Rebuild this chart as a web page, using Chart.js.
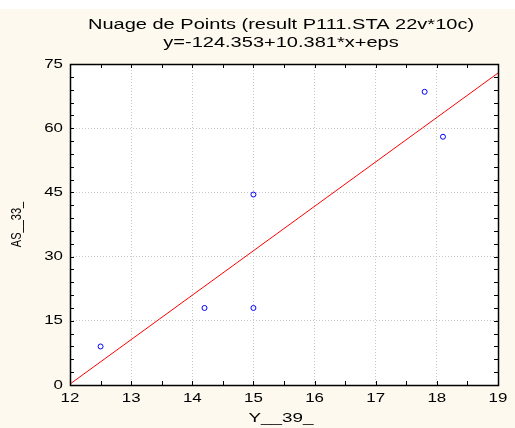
<!DOCTYPE html>
<html>
<head>
<meta charset="utf-8">
<script src="https://cdn.jsdelivr.net/npm/chart.js@4"></script>
<style>
  html, body { margin: 0; padding: 0; background: #fdf9ee; }
  #wrap { width: 515px; height: 428px; }
</style>
</head>
<body>
<div id="wrap"><canvas id="c" width="515" height="428"></canvas></div>
<script>
const titleLines = ["Nuage de Points (result P111.STA 22v*10c)", "y=-124.353+10.381*x+eps"];
const xAxisTitle = "Y__39_";
const yAxisTitle = "AS__33_";
const xValues = [12.5, 14.2, 15.0, 15.0, 17.8, 18.1];
const yValues = [9, 18, 18, 44.5, 68.5, 58];
const fitX = [12, 19];
const fitY = [0.22, 72.89];
const xMin = 12, xMax = 19, xMinorStep = 0.5, xMajorStep = 1;
const yMin = 0, yMax = 75, yMinorStep = 3, yMajorStep = 15;

const isMult = (v, s) => Math.abs(v / s - Math.round(v / s)) < 1e-6;

// The reference lettering is horizontally stretched: scale each glyph run about its anchor.
function stretched(ctx, sx, sy, dx, fn) {
  const orig = CanvasRenderingContext2D.prototype.fillText;
  ctx.fillText = function (t, x, y, mw) {
    this.save();
    this.translate(dx, 0);
    this.scale(sx, sy);
    if (mw === undefined || mw === null) orig.call(this, t, x / sx, y / sy);
    else orig.call(this, t, x / sx, y / sy, mw / sx);
    this.restore();
  };
  try { fn(); } finally { delete ctx.fillText; }
}
const stretch = {
  id: 'stretch',
  beforeDraw(chart) {
    const tb = chart.titleBlock;
    if (tb && !tb._st) {
      const d = tb.draw.bind(tb);
      tb.draw = a => stretched(chart.ctx, 1.43, 1, -3, () => d(a));
      tb._st = true;
    }
    ['x', 'y'].forEach(id => {
      const s = chart.scales[id];
      if (s && !s._st) {
        const dl = s.drawLabels.bind(s);
        s.drawLabels = a => stretched(chart.ctx, 1.3, 1, 0, () => dl(a));
        const dt = s.drawTitle.bind(s);
        s.drawTitle = () => id === 'x'
          ? stretched(chart.ctx, 1.45, 1, -3, () => dt())
          : stretched(chart.ctx, 1, 1.25, 0, () => dt());
        s._st = true;
      }
    });
  }
};

const frame = {
  id: 'frame',
  beforeDraw(chart) {
    const ctx = chart.ctx, a = chart.chartArea;
    ctx.save();
    ctx.fillStyle = '#fdf9ee';
    ctx.fillRect(0, 0, chart.width, chart.height);
    ctx.fillStyle = '#ffffff';
    ctx.fillRect(0, 0, chart.width, 9);
    ctx.fillRect(a.left, a.top, a.right - a.left, a.bottom - a.top);
    ctx.restore();
  },
  afterDraw(chart) {
    const ctx = chart.ctx, a = chart.chartArea;
    const xs = chart.scales.x, ys = chart.scales.y;
    ctx.save();
    ctx.strokeStyle = '#000';
    ctx.lineWidth = 1;
    ctx.beginPath();
    xs.ticks.forEach(t => {
      const px = Math.round(xs.getPixelForValue(t.value)) + 0.5;
      const len = 4;
      ctx.moveTo(px, a.top); ctx.lineTo(px, a.top + len);
      ctx.moveTo(px, a.bottom); ctx.lineTo(px, a.bottom - len);
    });
    ys.ticks.forEach(t => {
      const py = Math.round(ys.getPixelForValue(t.value)) + 0.5;
      const len = 4;
      ctx.moveTo(a.left, py); ctx.lineTo(a.left + len, py);
      ctx.moveTo(a.right, py); ctx.lineTo(a.right - len, py);
    });
    ctx.stroke();
    ctx.lineWidth = 1.5;
    ctx.strokeRect(Math.round(a.left) + 0.5, Math.round(a.top) + 0.5,
                   Math.round(a.right - a.left), Math.round(a.bottom - a.top));
    ctx.restore();
  }
};

const font = "'Liberation Sans', Arial, sans-serif";

new Chart(document.getElementById('c'), {
  data: {
    datasets: [
      {
        type: 'line',
        data: fitX.map((x, i) => ({ x, y: fitY[i] })),
        borderColor: '#ff0000',
        borderWidth: 1,
        pointRadius: 0,
        fill: false,
        order: 1
      },
      {
        type: 'scatter',
        data: xValues.map((x, i) => ({ x, y: yValues[i] })),
        borderColor: '#0000ff',
        backgroundColor: 'rgba(0,0,0,0)',
        pointRadius: 2.5,
        borderWidth: 1,
        order: 0
      }
    ]
  },
  options: {
    responsive: false,
    animation: false,
    layout: { padding: { left: 0, right: 17, top: 0, bottom: 0 } },
    plugins: {
      legend: { display: false },
      tooltip: { enabled: false },
      title: {
        display: true,
        fullSize: false,
        text: titleLines,
        color: '#000',
        font: { family: font, size: 14, weight: 'normal', lineHeight: 18 / 14 },
        padding: { top: 16.5, bottom: 11.5 }
      }
    },
    scales: {
      x: {
        type: 'linear',
        min: xMin, max: xMax,
        ticks: {
          stepSize: xMinorStep,
          autoSkip: false,
          maxRotation: 0,
          color: '#000',
          font: { family: font, size: 13 },
          padding: 6,
          callback: v => isMult(v, xMajorStep) ? String(v) : ''
        },
        grid: {
          drawTicks: false,
          color: ctx => (ctx.tick && isMult(ctx.tick.value, xMajorStep) && ctx.tick.value > xMin && ctx.tick.value < xMax) ? '#c8c8c8' : 'rgba(0,0,0,0)',
          lineWidth: 1
        },
        border: { display: false, dash: [1, 2] },
        title: {
          display: true, text: xAxisTitle, color: '#000',
          font: { family: font, size: 13 },
          padding: { top: 4, bottom: 2 }
        },
        afterFit: s => { s.height = 43; s.paddingLeft = 0; s.paddingRight = 0; }
      },
      y: {
        type: 'linear',
        min: yMin, max: yMax,
        ticks: {
          stepSize: yMinorStep,
          autoSkip: false,
          color: '#000',
          font: { family: font, size: 13 },
          padding: 7,
          callback: v => isMult(v, yMajorStep) ? String(v) : ''
        },
        grid: {
          drawTicks: false,
          color: ctx => (ctx.tick && isMult(ctx.tick.value, yMajorStep) && ctx.tick.value > yMin && ctx.tick.value < yMax) ? '#c8c8c8' : 'rgba(0,0,0,0)',
          lineWidth: 1
        },
        border: { display: false, dash: [1, 2] },
        title: {
          display: true, text: yAxisTitle, color: '#000',
          font: { family: font, size: 11 },
          padding: { top: 11, bottom: 0 }
        },
        afterFit: s => { s.width = 70; s.paddingTop = 0; s.paddingBottom = 0; }
      }
    }
  },
  plugins: [frame, stretch]
});
</script>
</body>
</html>
